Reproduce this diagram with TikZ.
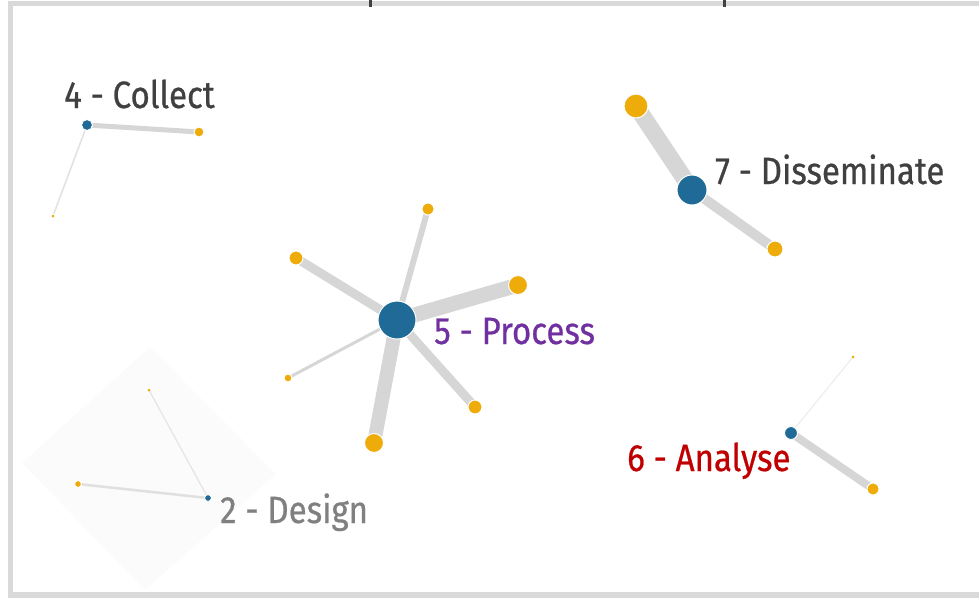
\documentclass[tikz,border=0pt]{standalone}
\usepackage{fontspec}
\setmainfont{Fira Sans}[FakeStretch=0.87,FakeBold=0.6]
\definecolor{framegray}{HTML}{D9D9D9}
\definecolor{edgegray}{HTML}{D6D6D6}
\definecolor{hubblue}{HTML}{1F6A96}
\definecolor{leaforange}{HTML}{EEAC0A}
\definecolor{darktext}{HTML}{404040}
\definecolor{purptext}{HTML}{7030A0}
\definecolor{redtext}{HTML}{C00000}
\definecolor{graytext}{HTML}{808080}
\definecolor{diamondfill}{HTML}{FBFBFB}
\tikzset{
  hub/.style={circle,fill=hubblue,draw=white,line width=1pt,inner sep=0pt,minimum size=#1},
  leaf/.style={circle,fill=leaforange,draw=white,line width=1pt,inner sep=0pt,minimum size=#1},
  link/.style={draw=edgegray,line width=#1},
  lbl/.style={anchor=base west,inner sep=0pt,font=\fontsize{38}{38}\selectfont},
}
\begin{document}
\begin{tikzpicture}[x=1pt,y=-1pt]
\useasboundingbox (0,0) rectangle (979,598);
% frame
\draw[framegray,line width=5.5pt] (979,3.5) -- (10.5,3.5) -- (10.5,595) -- (979,595);
\fill[darktext] (369,0) rectangle (371.5,7);
\fill[darktext] (723,0) rectangle (725.5,7);
% faint diamond
\fill[diamondfill] (150,347) -- (22,463) -- (145,590) -- (276,474) -- cycle;

% node positions
\coordinate (c0) at (87,125); \coordinate (c1) at (199,132); \coordinate (c2) at (53,216);
\coordinate (d1) at (636,106); \coordinate (d0) at (692,190); \coordinate (d2) at (775,249);
\coordinate (p0) at (397,320); \coordinate (p1) at (428,209); \coordinate (p2) at (296,258);
\coordinate (p3) at (518,285); \coordinate (p4) at (288,378); \coordinate (p5) at (475,407);
\coordinate (p6) at (374,443);
\coordinate (a0) at (791,433); \coordinate (a1) at (873,489); \coordinate (a2) at (853,357);
\coordinate (g0) at (208,498); \coordinate (g1) at (78,484); \coordinate (g2) at (149,390);

% edges
\path[link=5pt] (c0) -- (c1);
\path[link=1.6pt,draw=edgegray!70] (c0) -- (c2);
\path[link=17pt] (d0) -- (d1);
\path[link=10pt] (d0) -- (d2);
\path[link=6pt] (p0) -- (p1);
\path[link=9pt] (p0) -- (p2);
\path[link=15pt] (p0) -- (p3);
\path[link=3pt] (p0) -- (p4);
\path[link=9pt] (p0) -- (p5);
\path[link=14pt] (p0) -- (p6);
\path[link=8pt] (a0) -- (a1);
\path[link=1.2pt,draw=edgegray!45] (a0) -- (a2);
\path[link=2.5pt,draw=edgegray!75] (g0) -- (g1);
\path[link=1.3pt,draw=edgegray!60] (g0) -- (g2);

% nodes
\node[hub=11pt] (n-c0) at (c0) {};
\node[leaf=10pt] (n-c1) at (c1) {};
\node[leaf=4pt] (n-c2) at (c2) {};
\node[leaf=24pt] (n-d1) at (d1) {};
\node[hub=30pt] (n-d0) at (d0) {};
\node[leaf=16pt] (n-d2) at (d2) {};
\node[hub=38pt] (n-p0) at (p0) {};
\node[leaf=12pt] (n-p1) at (p1) {};
\node[leaf=14pt] (n-p2) at (p2) {};
\node[leaf=19pt] (n-p3) at (p3) {};
\node[leaf=8pt] (n-p4) at (p4) {};
\node[leaf=14pt] (n-p5) at (p5) {};
\node[leaf=19pt] (n-p6) at (p6) {};
\node[hub=13pt] (n-a0) at (a0) {};
\node[leaf=12pt] (n-a1) at (a1) {};
\node[leaf=3pt,draw=none] (n-a2) at (a2) {};
\node[hub=7pt] (n-g0) at (g0) {};
\node[leaf=7pt] (n-g1) at (g1) {};
\node[leaf=3pt,draw=none] (n-g2) at (g2) {};

% labels
\node[lbl,text=darktext] (tc) at (64,108) {4 - Collect};
\node[lbl,text=darktext] (td) at (715,184) {7 - Disseminate};
\node[lbl,text=purptext] (tp) at (434,344) {5 - Process};
\node[lbl,text=redtext] (ta) at (627,471) {6 - Analyse};
\node[lbl,text=graytext] (tg) at (220,523) {2 - Design};
\end{tikzpicture}
\end{document}
